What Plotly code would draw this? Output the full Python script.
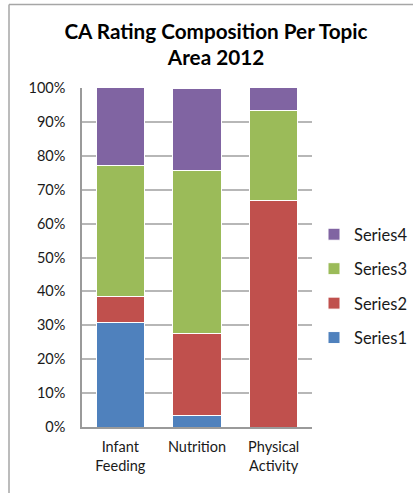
import plotly.graph_objects as go

# Share of CA ratings (%) in each topic area, 2012
topics = ["Infant<br>Feeding", "Nutrition", "Physical<br>Activity"]
series1 = [30.8, 3.4, 0.0]
series2 = [7.7, 24.1, 66.7]
series3 = [38.5, 48.3, 26.7]
series4 = [23.1, 24.1, 6.7]

series_names = ["Series1", "Series2", "Series3", "Series4"]
series_values = [series1, series2, series3, series4]
series_colors = ["#4F81BD", "#C0504D", "#9BBB59", "#8064A2"]

W, H = 413, 493
L, R, T, B = 82, 0, 88, 66
PLOT_RIGHT = 312  # right edge of the plotting area, px
pw, ph = W - L - R, H - T - B

def px_x(px):
    return (px - L) / pw

def px_y(py):
    return (H - B - py) / ph

fig = go.Figure()
n = len(series_names)
for i, (name, vals, col) in enumerate(zip(series_names, series_values, series_colors)):
    fig.add_trace(go.Bar(
        x=topics, y=vals, name=name, legendgroup=name,
        legendrank=100 * (n - i),
        marker=dict(color=col, line=dict(color="#ffffff", width=1)),
    ))

font_family = "Lato, 'Open Sans', sans-serif"

fig.update_layout(
    width=W, height=H,
    margin=dict(l=L, r=R, t=T, b=B),
    paper_bgcolor="white", plot_bgcolor="white",
    barmode="stack", bargap=0.37,
    font=dict(family=font_family, size=14.5, color="#1a1a1a"),
    title=dict(
        text="<b>CA Rating Composition Per Topic<br>Area 2012</b>",
        x=px_x(216), xref="paper", xanchor="center",
        y=1 - 38.5 / H, yref="container", yanchor="middle",
        font=dict(family=font_family, size=20.7, color="#000000"),
    ),
    legend=dict(
        traceorder="grouped", tracegroupgap=10,
        x=px_x(314), xanchor="left", y=px_y(217), yanchor="top",
        font=dict(size=16.5, color="#1a1a1a"),
        bgcolor="rgba(0,0,0,0)",
    ),
    showlegend=True,
)

fig.update_yaxes(
    range=[0, 100], dtick=10, ticksuffix="%",
    showgrid=True, gridcolor="#b7b7b7", gridwidth=1.5,
    showline=True, linecolor="#9a9a9a", linewidth=1.5,
    zeroline=False, ticks="", ticklabelstandoff=12,
    fixedrange=True,
)
fig.update_xaxes(
    domain=[0, px_x(PLOT_RIGHT)],
    showline=True, linecolor="#9a9a9a", linewidth=1.5,
    ticks="", ticklabelstandoff=6, fixedrange=True,
)

# Chart-area frame (top and left edges)
frame = dict(type="line", xref="paper", yref="paper",
             line=dict(color="#a6a6a6", width=1.5))
fig.add_shape(**frame, x0=px_x(9), x1=px_x(413), y0=px_y(4.5), y1=px_y(4.5))
fig.add_shape(**frame, x0=px_x(9), x1=px_x(9), y0=px_y(4.5), y1=px_y(493))

fig.write_html("out.html")
